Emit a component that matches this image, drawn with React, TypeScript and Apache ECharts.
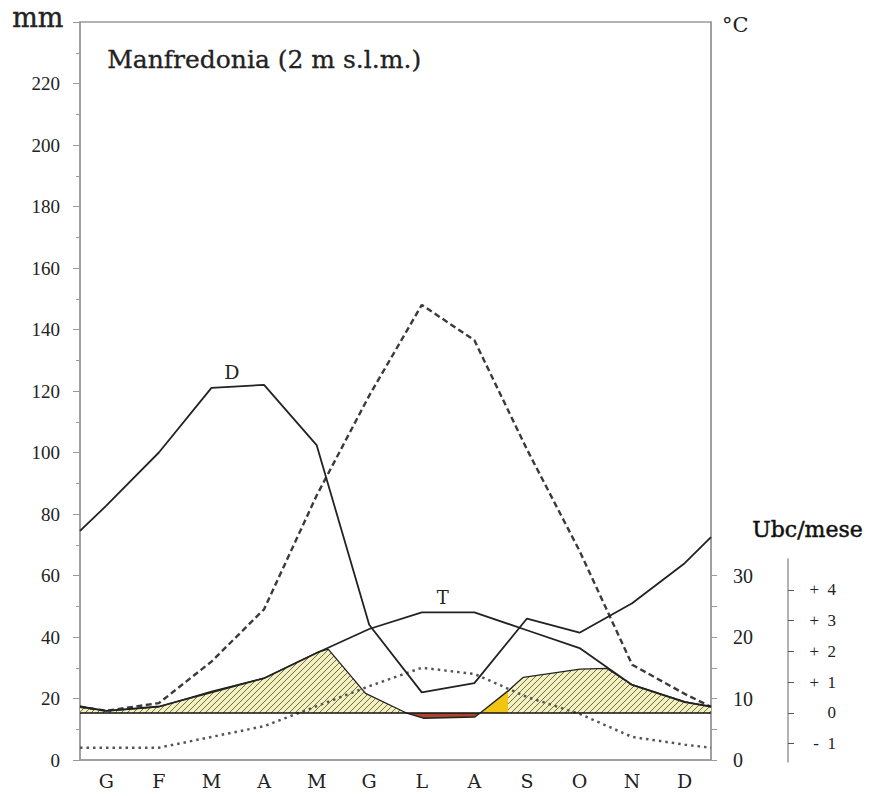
import React, { useEffect, useRef } from 'react';
import * as echarts from 'echarts';

// ---- data ----
const MONTHS = ['G', 'F', 'M', 'A', 'M', 'G', 'L', 'A', 'S', 'O', 'N', 'D'];
// solid line "D" (mm)
const D_VALUES = [82.7, 100, 121, 122, 102.4, 44, 22, 25, 46, 41.4, 51, 64];
const D_EDGES = [74.5, 72.5];
// dashed line (mm)
const DASH_VALUES = [16, 18.5, 32, 49, 86, 118.5, 148, 136.5, 101, 68, 31, 21.5];
const DASH_EDGES = [17.3, 17.3];
// dotted line (mm)
const DOT_VALUES = [4, 4, 7.5, 11, 17.5, 24, 30, 28, 20.5, 15, 7.5, 5];
const DOT_EDGES = [4, 4];
// temperature "T" (°C)
const T_VALUES = [8.0, 8.7, 11.0, 13.3, 17.4, 21.3, 24.0, 24.0, 21.1, 18.2, 12.2, 9.4];
const T_EDGES = [8.7, 8.7];
// bioclimatic intensity curve (ubc) — position in months from the left edge
const UBC_POS = [0, 0.5, 1.5, 2.5, 3.5, 4.5, 4.72, 5.43, 6.21, 6.53, 7.51, 7.61, 8.14, 8.43, 9.51, 10.02, 10.5, 11.5, 12];
const UBC_VAL = [0.2, 0.07, 0.2, 0.7, 1.13, 1.96, 2.08, 0.64, 0, -0.17, -0.13, 0, 0.72, 1.16, 1.43, 1.45, 0.92, 0.37, 0.2];
const DRY_FROM = 6.21;
const DRY_TO = 7.61;
const COND_TO = 8.14;
// tick labels
const MM_LABELS = [0, 20, 40, 60, 80, 100, 120, 140, 160, 180, 200, 220];
const C_TICKS = [0, 5, 10, 15, 20, 25, 30];
const C_LABELS = [0, 10, 20, 30];
const UBC_TICKS = [-1, 0, 1, 2, 3, 4];

const withEdges = (values: number[], edges: number[]) => [
  [0, edges[0]],
  ...values.map((v, i) => [i + 0.5, v]),
  [12, edges[1]],
];
const ubcSection = (a: number, b: number) =>
  UBC_POS.map((p, i) => [p, UBC_VAL[i]]).filter(([p]) => p >= a - 1e-9 && p <= b + 1e-9);

const SERIF = 'DejaVu Serif';
const NUM = 'Liberation Serif';
const AXIS_GRAY = '#9a9a9a';
const INK = '#222';

export default function App() {
  const ref = useRef<HTMLDivElement>(null);
  useEffect(() => {
    if (!ref.current) return;
    const chart = echarts.init(ref.current, null, { renderer: 'svg' });

    const c = document.createElement('canvas');
    c.width = 6;
    c.height = 6;
    const g = c.getContext('2d')!;
    g.fillStyle = '#f4f1c0';
    g.fillRect(0, 0, 6, 6);
    g.strokeStyle = '#6f6c48';
    g.lineWidth = 1;
    g.beginPath();
    g.moveTo(0, 6); g.lineTo(6, 0);
    g.moveTo(-1, 1); g.lineTo(1, -1);
    g.moveTo(5, 7); g.lineTo(7, 5);
    g.stroke();
    const hatch: any = { image: c.toDataURL(), repeat: 'repeat', imageWidth: 6, imageHeight: 6 };

    const fillSeries = (data: number[][], color: any) => ({
      type: 'line',
      xAxisIndex: 1,
      yAxisIndex: 2,
      data,
      symbol: 'none',
      silent: true,
      z: 1,
      lineStyle: { width: 0 },
      areaStyle: { color, opacity: 1 },
    });

    chart.setOption({
      animation: false,
      backgroundColor: '#ffffff',
      grid: [
        { left: 80, right: 160, top: 22, bottom: 36, show: true, borderColor: AXIS_GRAY, borderWidth: 1.5 },
        { left: 700, right: 83, top: 559, bottom: 34 },
      ],
      xAxis: [
        {
          type: 'category',
          gridIndex: 0,
          data: MONTHS,
          boundaryGap: true,
          axisLine: { lineStyle: { color: AXIS_GRAY, width: 1.5 } },
          axisTick: { interval: 0, length: 5, lineStyle: { color: AXIS_GRAY } },
          axisLabel: { interval: 0, margin: 11, fontFamily: SERIF, fontSize: 19, color: INK },
        },
        { type: 'value', gridIndex: 0, min: 0, max: 12, show: false },
        { type: 'value', gridIndex: 1, min: 0, max: 1, show: false },
      ],
      yAxis: [
        {
          type: 'value',
          gridIndex: 0,
          position: 'left',
          min: 0,
          max: 240,
          interval: 20,
          splitLine: { show: false },
          axisLine: { show: true, onZero: false, lineStyle: { color: AXIS_GRAY, width: 1.5 } },
          axisTick: { show: true, length: 7, lineStyle: { color: AXIS_GRAY } },
          minorTick: { show: true, splitNumber: 2, length: 4, lineStyle: { color: AXIS_GRAY } },
          axisLabel: {
            margin: 20,
            fontFamily: NUM,
            fontSize: 19,
            color: INK,
            formatter: (v: number) => (MM_LABELS.includes(v) ? String(v) : ''),
          },
        },
        {
          type: 'value',
          gridIndex: 0,
          position: 'right',
          min: 0,
          max: 120,
          splitLine: { show: false },
          axisLine: { show: true, onZero: false, lineStyle: { color: AXIS_GRAY, width: 1.5 } },
          axisTick: { show: true, length: 6, customValues: C_TICKS, lineStyle: { color: AXIS_GRAY } },
          axisLabel: { margin: 22, customValues: C_LABELS, fontFamily: NUM, fontSize: 20, color: INK },
        },
        { type: 'value', gridIndex: 0, min: -1.528, max: 22.472, show: false },
        {
          type: 'value',
          gridIndex: 1,
          position: 'right',
          min: -1.6,
          max: 5,
          splitLine: { show: false },
          axisLine: { show: true, onZero: false, lineStyle: { color: AXIS_GRAY, width: 1.5 } },
          axisTick: { show: true, length: 6, customValues: UBC_TICKS, lineStyle: { color: '#555' } },
          axisLabel: {
            margin: 48,
            align: 'right',
            customValues: UBC_TICKS,
            fontFamily: NUM,
            fontSize: 17,
            color: INK,
            formatter: (v: number) => (v > 0 ? '+  ' + v : v < 0 ? '-  ' + Math.abs(v) : '0'),
          },
        },
      ],
      graphic: [
        {
          type: 'text', left: 107, top: 47,
          style: { text: 'Manfredonia (2 m s.l.m.)', font: `25px "${SERIF}"`, fill: INK, stroke: INK, lineWidth: 0.3 },
        },
        { type: 'text', left: 12, top: 4, style: { text: 'mm', font: `27px "${SERIF}"`, fill: INK, stroke: INK, lineWidth: 0.4 } },
        { type: 'text', left: 722, top: 14, style: { text: '°C', font: `21px "${SERIF}"`, fill: INK } },
        {
          type: 'text', left: 752, top: 518,
          style: { text: 'Ubc/mese', font: `22px "${SERIF}"`, fill: '#111', stroke: '#111', lineWidth: 0.5 },
        },
      ],
      series: [
        fillSeries(ubcSection(0, DRY_FROM), hatch),
        fillSeries(ubcSection(COND_TO, 12), hatch),
        fillSeries(ubcSection(DRY_FROM, DRY_TO), '#a9452b'),
        fillSeries(ubcSection(DRY_TO, COND_TO), '#f2c514'),
        {
          type: 'line',
          xAxisIndex: 1,
          yAxisIndex: 2,
          data: ubcSection(0, 12),
          symbol: 'none',
          silent: true,
          z: 3,
          lineStyle: { color: INK, width: 1.3 },
          markLine: {
            silent: true,
            symbol: ['none', 'none'],
            label: { show: false },
            lineStyle: { color: '#111', width: 1.6, type: 'solid' },
            data: [{ yAxis: 0 }],
          },
        },
        {
          type: 'line',
          xAxisIndex: 1,
          yAxisIndex: 0,
          data: withEdges(DOT_VALUES, DOT_EDGES),
          symbol: 'none',
          silent: true,
          z: 3,
          lineStyle: { color: '#555', width: 2.5, type: [2.5, 4] },
        },
        {
          type: 'line',
          xAxisIndex: 1,
          yAxisIndex: 0,
          data: withEdges(DASH_VALUES, DASH_EDGES),
          symbol: 'none',
          silent: true,
          z: 3,
          lineStyle: { color: '#3a3a3a', width: 2.4, type: [6, 3.5] },
        },
        {
          type: 'line',
          xAxisIndex: 1,
          yAxisIndex: 0,
          data: withEdges(D_VALUES, D_EDGES),
          symbol: 'none',
          silent: true,
          z: 4,
          lineStyle: { color: INK, width: 1.8 },
          markPoint: {
            silent: true,
            symbol: 'circle',
            symbolSize: 1,
            itemStyle: { color: 'rgba(0,0,0,0)' },
            label: { show: true, position: 'inside', formatter: 'D', fontFamily: SERIF, fontSize: 19, color: INK },
            data: [{ coord: [2.89, 126.2] }],
          },
        },
        {
          type: 'line',
          xAxisIndex: 1,
          yAxisIndex: 1,
          data: withEdges(T_VALUES, T_EDGES),
          symbol: 'none',
          silent: true,
          z: 4,
          lineStyle: { color: INK, width: 1.8 },
          markPoint: {
            silent: true,
            symbol: 'circle',
            symbolSize: 1,
            itemStyle: { color: 'rgba(0,0,0,0)' },
            label: { show: true, position: 'inside', formatter: 'T', fontFamily: SERIF, fontSize: 18, color: INK },
            data: [{ coord: [6.9, 26.5] }],
          },
        },
      ],
    });
    return () => chart.dispose();
  }, []);
  return <div ref={ref} style={{ position: 'fixed', left: 0, top: 0, width: 871, height: 796 }} />;
}
